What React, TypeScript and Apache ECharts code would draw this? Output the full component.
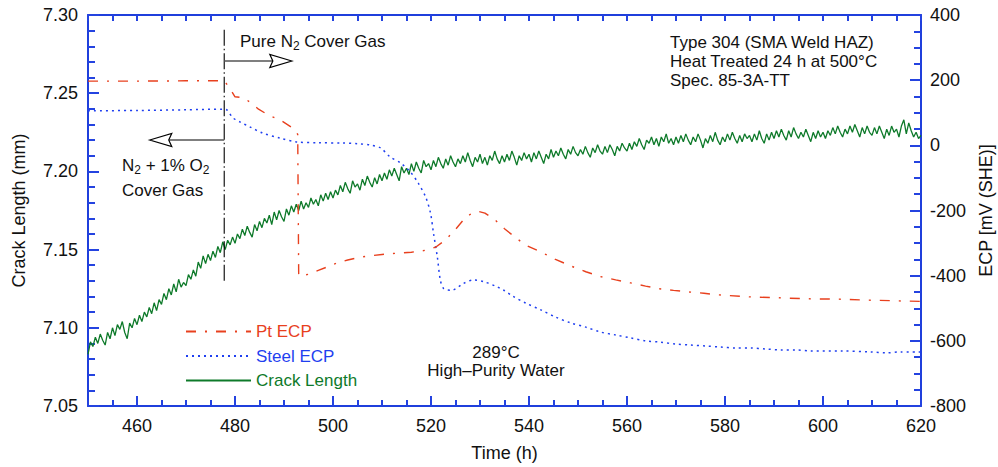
import React, { useEffect, useRef } from 'react';
import * as echarts from 'echarts';

const FONT = '"Liberation Sans", Arial, Helvetica, sans-serif';
const AXIS_BLUE = '#1f3fdc';
const TICK_BLUE = '#2443e0';
const RED = '#e8401e';
const BLUE = '#1f3ff0';
const GREEN = '#0e7a2a';
const TEXT = '#111111';

// ---- Data ----
const crackStart = 450;
const crackStep = 0.5;
const crackLength = [
  7.083, 7.091, 7.088, 7.094, 7.090, 7.096, 7.092, 7.089, 7.097, 7.093,
  7.100, 7.095, 7.102, 7.099, 7.104, 7.097, 7.093, 7.103, 7.100, 7.106,
  7.102, 7.108, 7.104, 7.110, 7.107, 7.113, 7.109, 7.116, 7.111, 7.118,
  7.115, 7.122, 7.118, 7.125, 7.121, 7.128, 7.123, 7.131, 7.126, 7.129,
  7.127, 7.134, 7.131, 7.137, 7.133, 7.142, 7.138, 7.146, 7.141, 7.147,
  7.143, 7.149, 7.145, 7.152, 7.148, 7.155, 7.150, 7.156, 7.153, 7.158,
  7.154, 7.160, 7.157, 7.163, 7.159, 7.165, 7.161, 7.158, 7.166, 7.162,
  7.168, 7.164, 7.170, 7.167, 7.172, 7.166, 7.174, 7.169, 7.175, 7.171,
  7.168, 7.176, 7.172, 7.178, 7.174, 7.179, 7.175, 7.181, 7.176, 7.180,
  7.177, 7.183, 7.179, 7.182, 7.178, 7.185, 7.181, 7.186, 7.182, 7.187,
  7.183, 7.188, 7.185, 7.191, 7.187, 7.193, 7.189, 7.186, 7.194, 7.190,
  7.192, 7.188, 7.195, 7.191, 7.197, 7.193, 7.190, 7.196, 7.192, 7.198,
  7.194, 7.199, 7.195, 7.201, 7.197, 7.202, 7.198, 7.194, 7.203, 7.199,
  7.202, 7.198, 7.205, 7.200, 7.206, 7.202, 7.199, 7.207, 7.203, 7.205,
  7.201, 7.207, 7.203, 7.209, 7.205, 7.202, 7.208, 7.204, 7.210, 7.206,
  7.203, 7.208, 7.205, 7.210, 7.206, 7.212, 7.207, 7.203, 7.209, 7.206,
  7.211, 7.205, 7.209, 7.204, 7.210, 7.207, 7.213, 7.208, 7.205, 7.210,
  7.206, 7.211, 7.207, 7.213, 7.209, 7.204, 7.210, 7.207, 7.212, 7.208,
  7.211, 7.206, 7.212, 7.208, 7.213, 7.209, 7.205, 7.211, 7.208, 7.214,
  7.209, 7.213, 7.210, 7.215, 7.211, 7.208, 7.214, 7.211, 7.216, 7.212,
  7.210, 7.214, 7.211, 7.216, 7.212, 7.209, 7.215, 7.212, 7.217, 7.213,
  7.211, 7.216, 7.212, 7.217, 7.214, 7.210, 7.216, 7.213, 7.218, 7.215,
  7.213, 7.218, 7.214, 7.219, 7.216, 7.221, 7.217, 7.214, 7.220, 7.218,
  7.222, 7.217, 7.221, 7.216, 7.222, 7.219, 7.224, 7.218, 7.221, 7.217,
  7.222, 7.218, 7.223, 7.219, 7.224, 7.220, 7.217, 7.222, 7.219, 7.224,
  7.220, 7.215, 7.221, 7.218, 7.223, 7.219, 7.225, 7.220, 7.217, 7.222,
  7.219, 7.224, 7.220, 7.225, 7.221, 7.218, 7.223, 7.219, 7.224, 7.221,
  7.223, 7.219, 7.224, 7.220, 7.226, 7.221, 7.218, 7.224, 7.220, 7.225,
  7.221, 7.226, 7.222, 7.227, 7.223, 7.220, 7.226, 7.222, 7.228, 7.224,
  7.221, 7.225, 7.222, 7.227, 7.223, 7.219, 7.225, 7.221, 7.226, 7.222,
  7.225, 7.221, 7.226, 7.223, 7.228, 7.224, 7.229, 7.225, 7.222, 7.227,
  7.224, 7.229, 7.225, 7.230, 7.226, 7.222, 7.228, 7.224, 7.229, 7.225,
  7.223, 7.228, 7.224, 7.229, 7.225, 7.221, 7.227, 7.223, 7.229, 7.225,
  7.227, 7.222, 7.229, 7.233, 7.224, 7.231, 7.226, 7.222, 7.225, 7.221,
  7.223,
];

// Pt ECP [time h, mV(SHE)]
const ptEcp: number[][] = [
  [450, 197], [460, 197], [470, 198], [477.8, 198], [478.9, 176], [480, 149],
  [481.8, 146], [483.8, 124], [484.8, 111], [486.8, 93], [489.2, 78], [491.6, 55],
  [492.8, 34], [493.0, -400], [495, -396], [497, -384], [499, -372], [501, -360],
  [503, -352], [505, -345], [507, -340], [510, -335], [513, -331], [516, -328],
  [519, -322], [521, -312], [523, -290], [525, -258], [527, -222], [528.5, -207],
  [529.7, -203], [531, -208], [533, -228], [535, -256], [537.5, -286], [539.3, -306],
  [542.4, -327], [545.4, -350], [548.5, -370], [551.6, -388], [554.6, -403], [557.7, -413],
  [560.7, -422], [563.8, -432], [566.5, -440], [569.5, -445], [572.6, -450], [575.7, -454],
  [578.7, -459], [584.9, -465], [591, -468], [597, -471], [603, -472], [609, -475],
  [617, -478], [620, -479],
];

// Steel ECP [time h, mV(SHE)]
const steelEcp: number[][] = [
  [450, 106], [460, 107], [470, 109], [477.6, 111], [478.4, 108], [479.6, 84],
  [481, 72], [483.1, 56], [485.6, 38], [489.2, 22], [492.7, 10], [497, 8],
  [502, 7], [505, 5], [507.6, 1], [509.7, -8], [511.7, -36], [513.8, -54],
  [515.8, -82], [517.4, -116], [518.9, -158], [519.9, -208], [520.5, -269], [521.3, -343],
  [521.9, -413], [522.6, -440], [524.2, -445], [526.6, -424], [528.7, -413], [530.7, -418],
  [533.6, -435], [534.8, -444], [536.6, -462], [539.3, -484], [542.4, -505], [545.4, -527],
  [548.5, -545], [551.6, -558], [554.6, -573], [557.7, -582], [560.7, -591], [563.8, -600],
  [566.9, -604], [569.9, -610], [573, -613], [576.1, -616], [579.1, -619], [582.2, -622],
  [585.3, -622], [588.3, -625], [591.4, -628], [594.5, -628], [597.5, -631], [603.7, -631],
  [609.8, -634], [612.9, -637], [615.9, -634], [620, -634],
];

// Cover-gas change marker (time h, crack-length axis values)
const gasChangeLine: number[][] = [[477.8, 7.2905], [477.8, 7.1285]];
// arrows: [fromTime, fromY, toTime, toY] on the crack-length axis
const gasArrows: number[][] = [
  [477.8, 7.2706, 491.6, 7.2706],
  [477.8, 7.2201, 462.6, 7.2201],
];

// ---- Axes ----
const xMin = 450;
const xMax = 620;
const yMin = 7.05;
const yMax = 7.3;
const ecpMin = -800;
const ecpMax = 400;
const majorTimeTicks = [460, 480, 500, 520, 540, 560, 580, 600];

const rich = {
  n: { fontSize: 17, lineHeight: 17, verticalAlign: 'top', fontFamily: FONT, fill: TEXT },
  s: { fontSize: 12, lineHeight: 12, padding: [9, 0, 0, 0], fontFamily: FONT, fill: TEXT },
};

function annot(text: string, x: number, baseline: number, align: string = 'left') {
  return {
    type: 'text',
    x,
    y: baseline - 14.5,
    z: 100,
    silent: true,
    style: { text, rich, align, textAlign: align, verticalAlign: 'top', textVerticalAlign: 'top' },
  };
}

const labelStyle = { fontSize: 18, color: TEXT, fontFamily: FONT };
const nameStyle = { fontSize: 18, color: TEXT, fontFamily: FONT };

function buildOption() {
  return {
    animation: false,
    backgroundColor: '#ffffff',
    grid: { left: 88, top: 15, width: 833, height: 391, containLabel: false, outerBoundsMode: 'none' },
    legend: {
      orient: 'vertical',
      left: 180,
      top: 318,
      itemWidth: 65,
      itemHeight: 14,
      itemGap: 7.5,
      selectedMode: false,
      itemStyle: { opacity: 0 },
      textStyle: { fontSize: 17, fontFamily: FONT },
      data: [
        { name: 'Pt ECP', textStyle: { color: RED } },
        { name: 'Steel ECP', textStyle: { color: BLUE } },
        { name: 'Crack Length', textStyle: { color: GREEN } },
      ],
    },
    xAxis: [
      {
        type: 'value',
        position: 'bottom',
        min: xMin,
        max: xMax,
        interval: 5,
        axisLine: { show: true, onZero: false, lineStyle: { color: AXIS_BLUE, width: 2 } },
        axisTick: { show: true, inside: true, length: 6, lineStyle: { color: TICK_BLUE, width: 2 } },
        axisLabel: {
          ...labelStyle,
          margin: 11,
          formatter: (v: number) => (Math.round(v) % 20 === 0 ? String(Math.round(v)) : ''),
        },
        splitLine: { show: false },
        name: 'Time (h)',
        nameLocation: 'middle',
        nameGap: 38,
        nameTextStyle: nameStyle,
      },
      {
        type: 'value',
        position: 'top',
        min: xMin,
        max: xMax,
        interval: 5,
        axisLine: { show: true, onZero: false, lineStyle: { color: AXIS_BLUE, width: 2 } },
        axisTick: { show: true, inside: true, length: 6, lineStyle: { color: TICK_BLUE, width: 2 } },
        axisLabel: { show: false },
        splitLine: { show: false },
      },
    ],
    yAxis: [
      {
        type: 'value',
        position: 'left',
        min: yMin,
        max: yMax,
        interval: 0.05,
        axisLine: { show: true, onZero: false, lineStyle: { color: AXIS_BLUE, width: 2 } },
        axisTick: { show: true, inside: true, length: 11, lineStyle: { color: TICK_BLUE, width: 2 } },
        minorTick: { show: true, splitNumber: 5, length: 7, lineStyle: { color: TICK_BLUE, width: 2 } },
        axisLabel: { ...labelStyle, margin: 10, formatter: (v: number) => v.toFixed(2) },
        splitLine: { show: false },
        name: 'Crack Length (mm)',
        nameLocation: 'middle',
        nameGap: 60,
        nameTextStyle: nameStyle,
      },
      {
        type: 'value',
        position: 'right',
        min: ecpMin,
        max: ecpMax,
        interval: 200,
        axisLine: { show: true, onZero: false, lineStyle: { color: AXIS_BLUE, width: 2 } },
        axisTick: { show: true, inside: true, length: 11, lineStyle: { color: TICK_BLUE, width: 2 } },
        minorTick: { show: true, splitNumber: 4, length: 7, lineStyle: { color: TICK_BLUE, width: 2 } },
        axisLabel: { ...labelStyle, margin: 9 },
        splitLine: { show: false },
        name: 'ECP [mV (SHE)]',
        nameLocation: 'middle',
        nameGap: 52,
        nameTextStyle: nameStyle,
      },
    ],
    series: [
      {
        // longer ticks at the labelled times, drawn through the axis scales
        name: 'majorTimeTicks',
        type: 'custom',
        xAxisIndex: 0,
        yAxisIndex: 0,
        encode: { x: 0, y: 1 },
        data: majorTimeTicks.map((t) => [t, yMin]),
        renderItem: (params: any, api: any) => {
          const p = api.coord([api.value(0), api.value(1)]);
          return {
            type: 'line',
            shape: { x1: p[0], y1: p[1], x2: p[0], y2: p[1] - 10 },
            style: { stroke: TICK_BLUE, lineWidth: 2 },
          };
        },
      },
      {
        name: 'Crack Length',
        type: 'line',
        xAxisIndex: 0,
        yAxisIndex: 0,
        symbol: 'none',
        data: crackLength.map((v, i) => [crackStart + i * crackStep, v]),
        lineStyle: { color: GREEN, width: 1.3 },
        itemStyle: { color: GREEN },
        z: 3,
      },
      {
        name: 'Steel ECP',
        type: 'line',
        xAxisIndex: 0,
        yAxisIndex: 1,
        symbol: 'none',
        smooth: 0.3,
        data: steelEcp,
        lineStyle: { color: BLUE, width: 1.5, type: [2, 4] },
        itemStyle: { color: BLUE },
        z: 4,
      },
      {
        name: 'Pt ECP',
        type: 'line',
        xAxisIndex: 0,
        yAxisIndex: 1,
        symbol: 'none',
        data: ptEcp,
        lineStyle: { color: RED, width: 1.4, type: [10, 9, 2, 9] },
        itemStyle: { color: RED },
        z: 4,
      },
      {
        name: 'gas change',
        type: 'line',
        xAxisIndex: 0,
        yAxisIndex: 0,
        symbol: 'none',
        silent: true,
        data: gasChangeLine,
        lineStyle: { color: '#000', width: 1.1, type: [16, 3, 1.5, 3] },
        z: 5,
      },
      {
        name: 'arrows',
        type: 'custom',
        xAxisIndex: 0,
        yAxisIndex: 0,
        silent: true,
        clip: false,
        encode: { x: [0, 2], y: [1, 3] },
        data: gasArrows,
        renderItem: (params: any, api: any) => {
          const p1 = api.coord([api.value(0), api.value(1)]);
          const p2 = api.coord([api.value(2), api.value(3)]);
          const dir = p2[0] > p1[0] ? 1 : -1;
          const headLen = 22;
          const half = 6.5;
          const bx = p2[0] - dir * headLen;
          return {
            type: 'group',
            children: [
              {
                type: 'line',
                shape: { x1: p1[0], y1: p1[1], x2: bx + dir * 3, y2: p2[1] },
                style: { stroke: '#555', lineWidth: 1.6 },
              },
              {
                type: 'polygon',
                shape: {
                  points: [
                    [p2[0], p2[1]],
                    [bx, p2[1] - half],
                    [bx + dir * 3, p2[1]],
                    [bx, p2[1] + half],
                  ],
                },
                style: { fill: '#fff', stroke: '#000', lineWidth: 1.2 },
              },
            ],
          };
        },
        z: 6,
      },
    ],
    graphic: [
      annot('{n|Pure N}{s|2}{n| Cover Gas}', 240, 47),
      annot('{n|N}{s|2}{n| + 1% O}{s|2}', 122, 171.7),
      annot('{n|Cover Gas}', 122, 196.7),
      annot('{n|Type 304 (SMA Weld HAZ)}', 670, 48.5),
      annot('{n|Heat Treated 24 h at 500°C}', 670, 67.7),
      annot('{n|Spec. 85-3A-TT}', 670, 86.9),
      annot('{n|289°C}', 496, 358.3, 'center'),
      annot('{n|High–Purity Water}', 496, 376.7, 'center'),
    ],
  };
}

export default function App() {
  const ref = useRef<HTMLDivElement>(null);
  useEffect(() => {
    if (!ref.current) return;
    const chart = echarts.init(ref.current, null, { renderer: 'svg' });
    chart.setOption(buildOption() as any);
    return () => chart.dispose();
  }, []);
  return (
    <div
      ref={ref}
      style={{ position: 'fixed', left: 0, top: 0, width: 998, height: 467, background: '#ffffff' }}
    />
  );
}
